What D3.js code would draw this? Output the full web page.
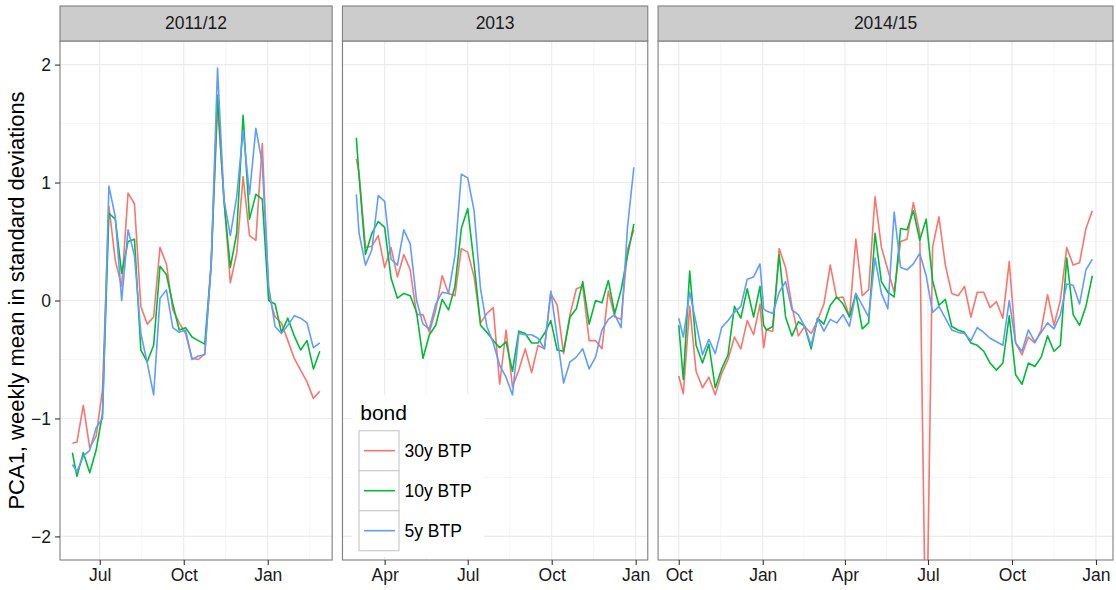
<!DOCTYPE html>
<html>
<head>
<meta charset="utf-8">
<script src="https://cdn.jsdelivr.net/npm/d3@7"></script>
<style>
  body { margin: 0; background: #fff; }
  svg text { font-family: "Liberation Sans", Arial, Helvetica, sans-serif; }
</style>
</head>
<body>
<div class="render"></div>
<script>
"use strict";

var width = 1116;
var height = 590;

// bond series, drawn in this order (30y first, 5y on top)
var bonds = ["30y BTP", "10y BTP", "5y BTP"];
var colors = ["#F8766D", "#00BA38", "#619CFF"];

// weeks: first (partial) week date, then the Monday weeks, plus any year-start partial week
var facetLabels = ["2011/12", "2013", "2014/15"];
var weeks1 = [new Date(2011, 5, 1)].concat(d3.timeMonday.range(new Date(2011, 5, 6), new Date(2012, 1, 28)));
var weeks2 = [new Date(2013, 2, 1)].concat(d3.timeMonday.range(new Date(2013, 2, 4), new Date(2013, 11, 31)));
var weeks3 = [new Date(2014, 9, 1)].concat(d3.timeMonday.range(new Date(2014, 9, 6), new Date(2014, 11, 30)),
  [new Date(2015, 0, 2)], d3.timeMonday.range(new Date(2015, 0, 5), new Date(2015, 11, 29)));

var ticks1 = [new Date(2011, 6, 1), new Date(2011, 9, 1), new Date(2012, 0, 1)];
var ticks2 = [new Date(2013, 3, 1), new Date(2013, 6, 1), new Date(2013, 9, 1), new Date(2014, 0, 1)];
var ticks3 = [new Date(2014, 9, 1), new Date(2015, 0, 1), new Date(2015, 3, 1), new Date(2015, 6, 1), new Date(2015, 9, 1), new Date(2016, 0, 1)];

var red1 = [-1.21, -1.20, -0.89, -1.25, -1.15, -0.76, 0.80, 0.34, 0.12, 0.91, 0.82, -0.05, -0.20, -0.14, 0.45, 0.31, -0.08, -0.19, -0.28, -0.49,
  -0.50, -0.45, 0.30, 1.65, 0.87, 0.15, 0.40, 1.05, 0.55, 0.51, 1.33, 0.05, -0.14, -0.19, -0.34, -0.49, -0.59, -0.69, -0.83, -0.77];
var green1 = [-1.29, -1.49, -1.29, -1.46, -1.27, -0.96, 0.74, 0.69, 0.23, 0.50, 0.52, -0.42, -0.52, -0.38, 0.29, 0.22, -0.03, -0.25, -0.23, -0.31,
  -0.34, -0.37, 0.30, 1.74, 0.85, 0.28, 0.57, 1.57, 0.69, 0.90, 0.86, 0.00, -0.03, -0.27, -0.15, -0.30, -0.42, -0.34, -0.58, -0.43];
var blue1 = [-1.39, -1.45, -1.32, -1.27, -1.08, -1.00, 0.97, 0.71, 0.00, 0.60, 0.38, -0.28, -0.53, -0.80, 0.02, 0.09, -0.23, -0.27, -0.25, -0.50,
  -0.47, -0.46, 0.30, 1.97, 0.86, 0.55, 0.88, 1.44, 0.90, 1.46, 1.16, 0.12, -0.22, -0.28, -0.21, -0.13, -0.15, -0.19, -0.40, -0.36];

var red2 = [1.20, 1.08, 0.45, 0.46, 0.55, 0.28, 0.45, 0.20, 0.39, 0.26, -0.12, -0.12, -0.27, -0.08, 0.21, 0.06, 0.04, 0.44, 0.41, 0.20,
  -0.19, -0.11, -0.06, -0.71, -0.25, -0.73, -0.59, -0.41, -0.61, -0.38, -0.41, 0.06, -0.04, -0.45, -0.12, 0.10, 0.12, -0.34, -0.34, -0.41,
  0.08, -0.14, -0.16, 0.43, 0.60];
var green2 = [1.38, 1.05, 0.39, 0.57, 0.67, 0.62, 0.19, 0.02, 0.06, 0.04, -0.10, -0.49, -0.29, -0.21, 0.01, -0.08, 0.12, 0.61, 0.78, 0.31,
  -0.21, -0.27, -0.34, -0.40, -0.35, -0.60, -0.26, -0.28, -0.36, -0.36, -0.28, -0.17, -0.42, -0.43, -0.14, -0.07, 0.16, -0.20, 0.00, -0.02,
  0.17, -0.11, 0.09, 0.38, 0.65];
var blue2 = [0.90, 0.57, 0.30, 0.43, 0.89, 0.84, 0.35, 0.30, 0.60, 0.48, 0.00, -0.20, -0.24, -0.03, 0.07, 0.06, 0.38, 1.07, 1.04, 0.76,
  0.10, -0.22, -0.36, -0.55, -0.65, -0.80, -0.28, -0.29, -0.29, -0.32, -0.41, 0.08, -0.31, -0.70, -0.52, -0.48, -0.41, -0.58, -0.48, -0.25,
  -0.16, -0.12, -0.23, 0.62, 1.13];

var red3 = [-0.64, -0.79, -0.05, -0.60, -0.74, -0.65, -0.80, -0.62, -0.50, -0.31, -0.41, -0.17, -0.29, -0.03, -0.40, -0.25, -0.26, 0.44, 0.28, -0.05,
  -0.30, -0.22, -0.28, -0.17, -0.03, 0.30, 0.02, 0.03, -0.14, 0.52, 0.04, 0.09, 0.88, 0.45, 0.26, 0.07, 0.50, 0.52, 0.83, 0.57,
  -3.20, 0.45, 0.71, 0.30, 0.06, 0.04, 0.12, -0.14, 0.07, 0.07, -0.06, -0.01, -0.15, 0.33, -0.36, -0.46, -0.31, -0.36, -0.25, 0.05,
  -0.21, 0.00, 0.45, 0.30, 0.32, 0.61, 0.76];
var green3 = [-0.21, -0.67, 0.25, -0.38, -0.53, -0.37, -0.74, -0.58, -0.46, -0.05, -0.15, 0.10, -0.14, 0.12, -0.21, -0.25, -0.22, 0.39, -0.14, -0.30,
  -0.18, -0.22, -0.41, -0.15, -0.20, -0.04, 0.03, -0.03, -0.14, 0.06, -0.24, -0.19, 0.57, 0.16, 0.07, 0.03, 0.61, 0.60, 0.76, 0.51,
  0.69, 0.17, -0.04, 0.01, -0.22, -0.25, -0.27, -0.36, -0.38, -0.43, -0.53, -0.59, -0.53, -0.13, -0.63, -0.71, -0.53, -0.56, -0.48, -0.30,
  -0.43, -0.38, 0.36, -0.12, -0.21, -0.05, 0.21];
var blue3 = [-0.15, -0.31, 0.07, -0.19, -0.46, -0.33, -0.45, -0.23, -0.17, -0.10, -0.05, 0.18, 0.20, 0.31, -0.07, -0.09, -0.11, 0.07, 0.16, -0.08,
  -0.12, -0.22, -0.38, -0.15, -0.26, -0.16, -0.19, -0.12, -0.22, 0.06, -0.04, -0.14, 0.36, 0.06, -0.07, 0.75, 0.28, 0.26, 0.31, 0.40,
  0.21, -0.10, -0.05, -0.15, -0.25, -0.27, -0.28, -0.34, -0.23, -0.27, -0.32, -0.35, -0.38, 0.00, -0.36, -0.43, -0.25, -0.35, -0.27, -0.19,
  -0.24, -0.12, 0.14, 0.13, -0.03, 0.26, 0.35];

var yTicks = [-2, -1, 0, 1, 2];
var yMinor = [-1.5, -0.5, 0.5, 1.5];

var panels = [
  { label: facetLabels[0], weeks: weeks1, ticks: ticks1, series: [red1, green1, blue1] },
  { label: facetLabels[1], weeks: weeks2, ticks: ticks2, series: [red2, green2, blue2] },
  { label: facetLabels[2], weeks: weeks3, ticks: ticks3, series: [red3, green3, blue3] }
];

var plotLeft = 60, plotRight = 1113, plotTop = 41, plotBottom = 560, gap = 10.3;
var day = 864e5;

// free x scales with space proportional to the date span (5% expansion each side)
panels.forEach(function (p) {
  var ext = d3.extent(p.weeks);
  var pad = (ext[1] - ext[0]) * 0.05;
  p.domain = [new Date(+ext[0] - pad), new Date(+ext[1] + pad)];
  p.span = (p.domain[1] - p.domain[0]) / day;
});
var totalSpan = d3.sum(panels, function (p) { return p.span; });
var pxPerDay = (plotRight - plotLeft - gap * (panels.length - 1)) / totalSpan;
var cursor = plotLeft;
panels.forEach(function (p) {
  p.x0 = cursor;
  p.x1 = cursor + p.span * pxPerDay;
  cursor = p.x1 + gap;
  p.x = d3.scaleTime().domain(p.domain).range([p.x0, p.x1]);
});

var y = d3.scaleLinear().domain([-2.2, 2.2]).range([plotBottom, plotTop]);

var svg = d3.select('.render').append('svg').attr('width', width).attr('height', height);
var defs = svg.append('defs');
var fmt = d3.timeFormat('%b');

panels.forEach(function (p, i) {
  var g = svg.append('g');
  var w = p.x1 - p.x0;

  g.append('rect').attr('x', p.x0).attr('y', plotTop).attr('width', w).attr('height', plotBottom - plotTop).attr('fill', '#fff');

  // minor breaks: midpoints between majors, one more on each side
  var t = p.ticks.map(Number);
  var minor = [];
  minor.push(t[0] - (t[1] - t[0]) / 2);
  for (var k = 0; k < t.length - 1; k++) minor.push((t[k] + t[k + 1]) / 2);
  minor.push(t[t.length - 1] + (t[t.length - 1] - t[t.length - 2]) / 2);
  minor = minor.filter(function (m) { return m > +p.domain[0] && m < +p.domain[1]; });

  g.selectAll('.hminor').data(yMinor).enter().append('line')
    .attr('x1', p.x0).attr('x2', p.x1).attr('y1', y).attr('y2', y)
    .attr('stroke', '#F5F5F5').attr('stroke-width', 1);
  g.selectAll('.vminor').data(minor).enter().append('line')
    .attr('x1', function (d) { return p.x(new Date(d)); }).attr('x2', function (d) { return p.x(new Date(d)); })
    .attr('y1', plotTop).attr('y2', plotBottom).attr('stroke', '#F5F5F5').attr('stroke-width', 1);
  g.selectAll('.hmajor').data(yTicks).enter().append('line')
    .attr('x1', p.x0).attr('x2', p.x1).attr('y1', y).attr('y2', y)
    .attr('stroke', '#EBEBEB').attr('stroke-width', 1.1);
  g.selectAll('.vmajor').data(p.ticks).enter().append('line')
    .attr('x1', p.x).attr('x2', p.x).attr('y1', plotTop).attr('y2', plotBottom)
    .attr('stroke', '#EBEBEB').attr('stroke-width', 1.1);

  defs.append('clipPath').attr('id', 'clip' + i).append('rect')
    .attr('x', p.x0).attr('y', plotTop).attr('width', w).attr('height', plotBottom - plotTop);

  var line = d3.line()
    .x(function (d, j) { return p.x(p.weeks[j]); })
    .y(function (d) { return y(d); });

  g.append('g').attr('clip-path', 'url(#clip' + i + ')')
    .selectAll('path').data(p.series).enter().append('path')
    .attr('d', line)
    .attr('fill', 'none')
    .attr('stroke', function (d, j) { return colors[j]; })
    .attr('stroke-width', 1.6)
    .attr('stroke-linejoin', 'round');

  // legend sits inside the middle panel
  if (i === 1) drawLegend();

  g.append('rect').attr('x', p.x0).attr('y', plotTop).attr('width', w).attr('height', plotBottom - plotTop)
    .attr('fill', 'none').attr('stroke', '#7F7F7F').attr('stroke-width', 1.1);

  // strip
  g.append('rect').attr('x', p.x0).attr('y', 6).attr('width', w).attr('height', plotTop - 6)
    .attr('fill', '#CCCCCC').attr('stroke', '#7F7F7F').attr('stroke-width', 1.1);
  g.append('text').attr('x', (p.x0 + p.x1) / 2).attr('y', 29.3).attr('text-anchor', 'middle')
    .attr('font-size', '17.5px').attr('fill', '#1A1A1A').text(p.label);

  // x axis
  var xa = g.append('g').attr('transform', 'translate(0,' + plotBottom + ')')
    .call(d3.axisBottom(p.x).tickValues(p.ticks).tickFormat(fmt).tickSize(5).tickPadding(4));
  xa.select('.domain').remove();
  xa.selectAll('line').attr('stroke', '#333').attr('stroke-width', 1.1);
  xa.selectAll('text').attr('font-size', '17.5px').attr('fill', '#1A1A1A').attr('font-family', null);
});

// y axis on the left of the first panel
var ya = svg.append('g').attr('transform', 'translate(' + plotLeft + ',0)')
  .call(d3.axisLeft(y).tickValues(yTicks).tickFormat(function (d) { return d < 0 ? '\u2212' + Math.abs(d) : d; }).tickSize(5).tickPadding(4));
ya.select('.domain').remove();
ya.selectAll('line').attr('stroke', '#333').attr('stroke-width', 1.1);
ya.selectAll('text').attr('font-size', '17.5px').attr('fill', '#1A1A1A').attr('font-family', null);

svg.append('text')
  .attr('transform', 'translate(24,' + ((plotTop + plotBottom) / 2) + ') rotate(-90)')
  .attr('text-anchor', 'middle').attr('font-size', '22px').attr('fill', '#000')
  .text('PCA1, weekly mean in standard deviations');

function drawLegend() {
  var lg = svg.append('g').attr('transform', 'translate(351.7,395)');
  lg.append('rect').attr('width', 132.3).attr('height', 162).attr('fill', '#fff');
  lg.append('text').attr('x', 8.5).attr('y', 25).attr('font-size', '21px').attr('fill', '#000').text('bond');
  var keys = lg.selectAll('.key').data(bonds).enter().append('g')
    .attr('transform', function (d, i) { return 'translate(7.3,' + (35.7 + i * 40) + ')'; });
  keys.append('rect').attr('width', 40).attr('height', 40)
    .attr('fill', '#fff').attr('stroke', '#CCCCCC').attr('stroke-width', 1.2);
  keys.append('line').attr('x1', 5).attr('x2', 36).attr('y1', 20).attr('y2', 20)
    .attr('stroke', function (d, i) { return colors[i]; }).attr('stroke-width', 1.6);
  keys.append('text').attr('x', 45.5).attr('y', 26).attr('font-size', '17.5px').attr('fill', '#000').text(function (d) { return d; });
}
</script>
</body>
</html>
